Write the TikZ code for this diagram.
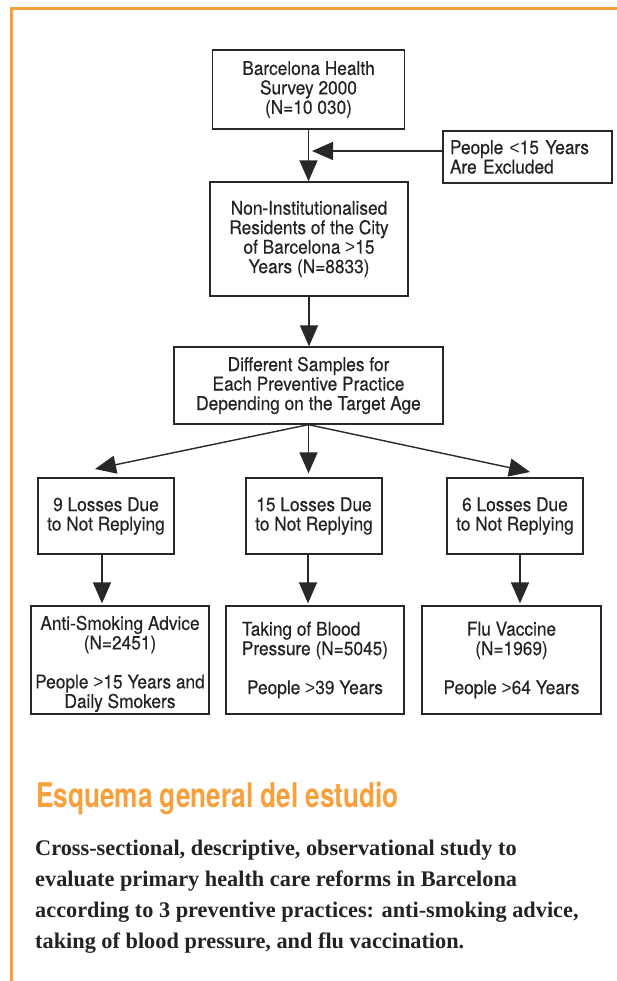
\documentclass[tikz,border=0pt]{standalone}
\usepackage{fontspec}
\setmainfont{Liberation Serif}
\newfontfamily\boxfont[FakeStretch=0.91, FakeBold=0.3]{TeX Gyre Heros}
\newfontfamily\cmpfont[FakeStretch=0.91]{Liberation Sans}
\newfontfamily\headfont[FakeStretch=0.77]{TeX Gyre Heros}
\newcommand{\lessthan}{{\cmpfont <}}
\newcommand{\morethan}{{\cmpfont >}}
\definecolor{frameorange}{RGB}{247, 160, 60}
\definecolor{boxgray}{RGB}{40, 40, 40}
\definecolor{textgray}{RGB}{35, 35, 35}
\usetikzlibrary{arrows.meta, positioning}

\begin{document}
\begin{tikzpicture}[x=1pt, y=-1pt,
  flowbox/.style={draw=boxgray, line width=1.3pt, text=textgray, align=center, inner sep=0pt, font=\boxfont\fontsize{19}{19.5}\selectfont},
  link/.style={draw=boxgray, line width=1.4pt, -{Triangle[length=21pt, width=18pt]}}]
  \useasboundingbox (0,0) rectangle (617,981);
  % orange frame
  \draw[frameorange, line width=3pt] (617,9) -- (11,9) -- (11,981);

  \node[flowbox, minimum width=192pt, minimum height=79pt] (survey) at (308.5,89.5) {Barcelona Health\\Survey 2000\\(N=10 030)};
  \node[flowbox, minimum height=52pt, text width=155pt, inner xsep=7pt, align=left] (excluded) at (527.5,157) {People \lessthan15 Years\\Are Excluded};
  \node[flowbox, minimum width=198pt, minimum height=114pt] (residents) at (309,239) {Non-Institutionalised\\Residents of the City\\of Barcelona \morethan15\\Years (N=8833)};
  \node[flowbox, minimum width=269pt, minimum height=77pt] (samples) at (308.5,385.5) {Different Samples for\\Each Preventive Practice\\Depending on the Target Age};

  \node[flowbox, minimum width=136pt, minimum height=76pt] (loss9) at (106,516) {9 Losses Due\\to Not Replying};
  \node[flowbox, minimum width=136pt, minimum height=76pt] (loss15) at (314,516) {15 Losses Due\\to Not Replying};
  \node[flowbox, minimum width=136pt, minimum height=76pt] (loss6) at (515,516) {6 Losses Due\\to Not Replying};

  \node[flowbox, minimum width=178pt, minimum height=108pt] (advice) at (120,660) {\rule{0pt}{22pt}Anti-Smoking Advice\\(N=2451)\\[19.5pt]People \morethan15 Years and\\Daily Smokers};
  \node[flowbox, minimum width=178pt, minimum height=108pt] (pressure) at (315,660) {\rlap{Taking of Blood}\phantom{Pressure (N=5045)}\\Pressure (N=5045)\\[19.5pt]People \morethan39 Years};
  \node[flowbox, minimum width=179pt, minimum height=108pt] (vaccine) at (511.5,660) {Flu Vaccine\\(N=1969)\\[19.5pt]People \morethan64 Years};

  \coordinate (joint) at (312,151);
  \coordinate (tipleft) at (95,469);
  \coordinate (tipright) at (530,472);

  \draw[link] (survey.south) -- (survey.south |- residents.north);
  \draw[link] ([yshift=6pt]excluded.west) -- (joint);
  \draw[link] (residents.south) -- (residents.south |- samples.north);
  \draw[link] (samples.south) -- (tipleft);
  \draw[link] (samples.south) -- ([yshift=4pt]samples.south |- loss15.north);
  \draw[link] (samples.south) -- (tipright);
  \foreach \a/\b/\dx in {loss9/advice/-4, loss15/pressure/-6, loss6/vaccine/5}
    \draw[link] ([xshift=\dx pt]\a.south) -- ([xshift=\dx pt, yshift=2pt]\a.south |- \b.north);

  \node[anchor=base west, inner sep=0pt, text=frameorange, font=\headfont\bfseries\fontsize{34}{34}\selectfont] (heading) at (36,807) {Esquema general del estudio};
  \node[anchor=base west, inner sep=0pt, align=left, text=textgray, font=\bfseries\fontsize{22.3}{31}\selectfont] (summary) at (35,948) {Cross-sectional, descriptive, observational study to\\evaluate primary health care reforms in Barcelona\\according to 3 preventive practices: anti-smoking advice,\\taking of blood pressure, and flu vaccination.};
\end{tikzpicture}
\end{document}
